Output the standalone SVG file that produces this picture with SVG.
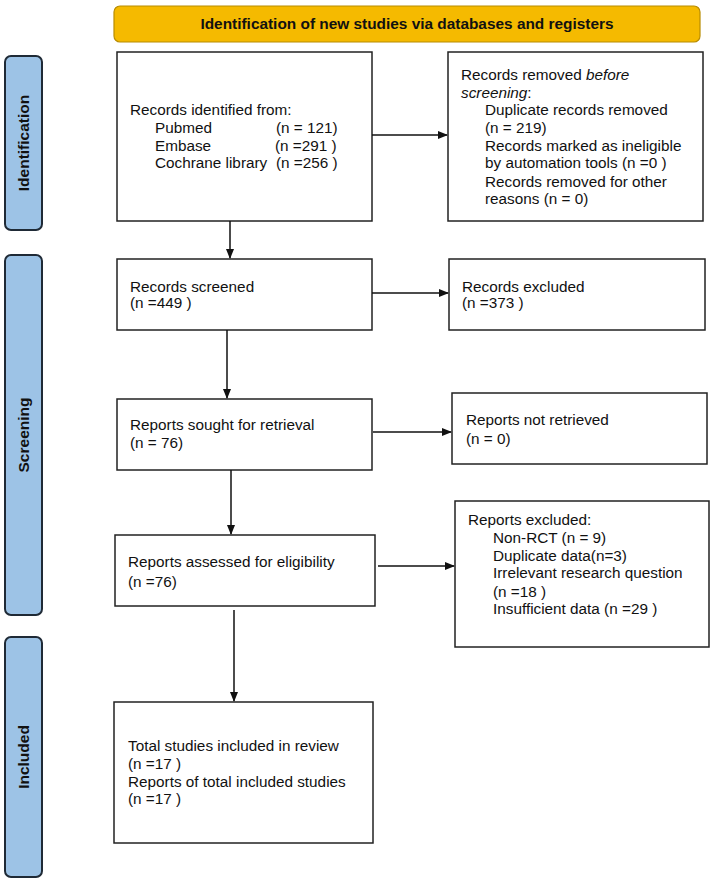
<svg xmlns="http://www.w3.org/2000/svg" width="715" height="882" viewBox="0 0 715 882">
<style>
text{font-family:"Liberation Sans",Arial,sans-serif;font-size:15.3px;fill:#111}
.box{fill:#fff;stroke:#222;stroke-width:1.5}
.side{fill:#9DC3E6;stroke:#1f2a36;stroke-width:2}
.side-t{font-weight:bold;font-size:15.5px;text-anchor:middle}
.ban{fill:#F5BA00;stroke:#B88C00;stroke-width:1.2}
.ban-t{font-weight:bold;font-size:15.4px;text-anchor:middle}
.c{stroke:#111;stroke-width:1.5;fill:none;marker-end:url(#ah)}
</style>
<defs>
<marker id="ah" markerWidth="10" markerHeight="8" refX="9" refY="4" orient="auto" markerUnits="userSpaceOnUse">
<path d="M0,0 L10,4 L0,8 Z" fill="#111"/>
</marker>
</defs>
<rect width="715" height="882" fill="#fff"/>
<g id="banner"><rect class="ban" x="114" y="6" width="586" height="36" rx="6"/><text class="ban-t" x="407" y="29">Identification of new studies via databases and registers</text></g>
<g id="side-identification"><rect class="side" x="5" y="56" width="37" height="174" rx="6"/><text class="side-t" transform="translate(29,143) rotate(-90)">Identification</text></g>
<g id="side-screening"><rect class="side" x="5" y="255" width="37" height="360" rx="6"/><text class="side-t" transform="translate(29,435) rotate(-90)">Screening</text></g>
<g id="side-included"><rect class="side" x="5" y="637" width="37" height="240" rx="6"/><text class="side-t" transform="translate(29,757) rotate(-90)">Included</text></g>
<g id="records-identified"><rect class="box" x="117" y="52" width="255" height="169"/>
<text x="130" y="115">Records identified from:</text>
<text x="155" y="133">Pubmed</text><text x="276" y="133">(n = 121)</text>
<text x="155" y="151">Embase</text><text x="275" y="151">(n =291 )</text>
<text x="155" y="168">Cochrane library</text><text x="276" y="168">(n =256 )</text></g>
<g id="records-removed"><rect class="box" x="448" y="52" width="255" height="169"/>
<text x="461" y="80">Records removed <tspan font-style="italic">before</tspan></text>
<text x="461" y="98" font-style="italic">screening<tspan font-style="normal">:</tspan></text>
<text x="485" y="115">Duplicate records removed</text>
<text x="485" y="133">(n = 219)</text>
<text x="485" y="151">Records marked as ineligible</text>
<text x="485" y="168">by automation tools (n =0 )</text>
<text x="485" y="187">Records removed for other</text>
<text x="485" y="204">reasons (n = 0)</text></g>
<g id="records-screened"><rect class="box" x="117" y="259" width="255" height="71"/>
<text x="130" y="292">Records screened</text><text x="130" y="308">(n =449 )</text></g>
<g id="records-excluded"><rect class="box" x="449" y="259" width="256" height="71"/>
<text x="462" y="292">Records excluded</text><text x="462" y="308">(n =373 )</text></g>
<g id="reports-sought"><rect class="box" x="117" y="399" width="255" height="71"/>
<text x="130" y="430">Reports sought for retrieval</text><text x="130" y="448">(n = 76)</text></g>
<g id="reports-not-retrieved"><rect class="box" x="452" y="393" width="255" height="71"/>
<text x="466" y="425">Reports not retrieved</text><text x="466" y="444">(n = 0)</text></g>
<g id="reports-assessed"><rect class="box" x="115" y="535" width="260" height="71"/>
<text x="128" y="567">Reports assessed for eligibility</text><text x="128" y="587">(n =76)</text></g>
<g id="reports-excluded"><rect class="box" x="455" y="501" width="254" height="146"/>
<text x="468" y="525">Reports excluded:</text>
<text x="493" y="543">Non-RCT (n = 9)</text>
<text x="493" y="561">Duplicate data(n=3)</text>
<text x="493" y="578">Irrelevant research question</text>
<text x="493" y="597">(n =18 )</text>
<text x="493" y="614">Insufficient data (n =29 )</text></g>
<g id="included"><rect class="box" x="114" y="702" width="259" height="141"/>
<text x="128" y="751">Total studies included in review</text>
<text x="128" y="769">(n =17 )</text>
<text x="128" y="787">Reports of total included studies</text>
<text x="128" y="804">(n =17 )</text></g>
<g id="connectors">
<line class="c" x1="372" y1="135" x2="447" y2="135"/>
<line class="c" x1="230" y1="221" x2="230" y2="258"/>
<line class="c" x1="372" y1="293" x2="448" y2="293"/>
<line class="c" x1="227" y1="330" x2="227" y2="398"/>
<line class="c" x1="373" y1="432" x2="451" y2="432"/>
<line class="c" x1="231" y1="470" x2="231" y2="534"/>
<line class="c" x1="378" y1="566" x2="454" y2="566"/>
<line class="c" x1="234" y1="610" x2="234" y2="701"/>
</g>
</svg>
